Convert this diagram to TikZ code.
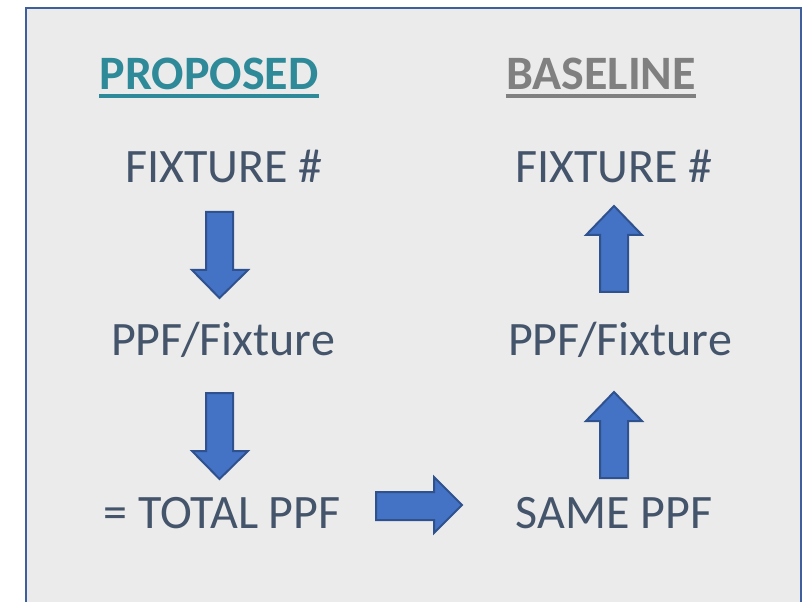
\documentclass[tikz,border=0pt]{standalone}
\usepackage{fontspec}
\setmainfont{Carlito}
\usetikzlibrary{calc}
\definecolor{boxfill}{HTML}{EBEBEB}
\definecolor{boxedge}{HTML}{3E5F9E}
\definecolor{txt}{HTML}{44546A}
\definecolor{teal}{HTML}{2E8A98}
\definecolor{grayh}{HTML}{808080}
\definecolor{arrfill}{HTML}{4472C4}
\definecolor{arredge}{HTML}{2F528F}
\begin{document}
\begin{tikzpicture}[x=0.75pt,y=-0.75pt,
  lbl/.style={anchor=base,inner sep=0pt,text=txt,font=\fontsize{36}{38}\selectfont},
  hdr/.style={anchor=base,inner sep=0pt,font=\fontsize{36}{38}\selectfont\bfseries},
  blockarrow/.style={fill=arrfill,draw=arredge,line width=1.5pt,line join=miter}]
\useasboundingbox (0,0) rectangle (807,602);
\fill[white] (0,0) rectangle (807,602);
\draw[fill=boxfill,draw=boxedge,line width=1.5pt] (26,8) rectangle (801,640);
% headers
\node[hdr,text=teal] (prop) at (209,90) {PROPOSED};
\draw[teal,line width=2.5pt] ($(prop.base west)+(0,6)$) -- ($(prop.base east)+(0,6)$);
\node[hdr,text=grayh] (base) at (601,90) {BASELINE};
\draw[grayh,line width=2.5pt] ($(base.base west)+(0,6)$) -- ($(base.base east)+(0,6)$);
% labels
\node[lbl] (fl) at (224,183) {FIXTURE \#};
\node[lbl] (fr) at (614,183) {FIXTURE \#};
\node[lbl] (pl) at (223,356) {PPF/Fixture};
\node[lbl] (pr) at (620,356) {PPF/Fixture};
\node[lbl] (tl) at (222,528) {= TOTAL PPF};
\node[lbl] (sr) at (614,528) {SAME PPF};
% down arrows
\draw[blockarrow] (206,212) -- (233,212) -- (233,270) -- (248,270) -- (219.5,298) -- (192,270) -- (206,270) -- cycle;
\draw[blockarrow] (206,393) -- (233,393) -- (233,451) -- (248,451) -- (219.5,479) -- (192,451) -- (206,451) -- cycle;
% up arrows
\draw[blockarrow] (600,292) -- (628,292) -- (628,235) -- (642,235) -- (614,206) -- (586,235) -- (600,235) -- cycle;
\draw[blockarrow] (600,478) -- (628,478) -- (628,421) -- (642,421) -- (614,392) -- (586,421) -- (600,421) -- cycle;
% right arrow
\draw[blockarrow] (376,492) -- (434,492) -- (434,477) -- (462,505) -- (434,533) -- (434,520) -- (376,520) -- cycle;
\end{tikzpicture}
\end{document}
